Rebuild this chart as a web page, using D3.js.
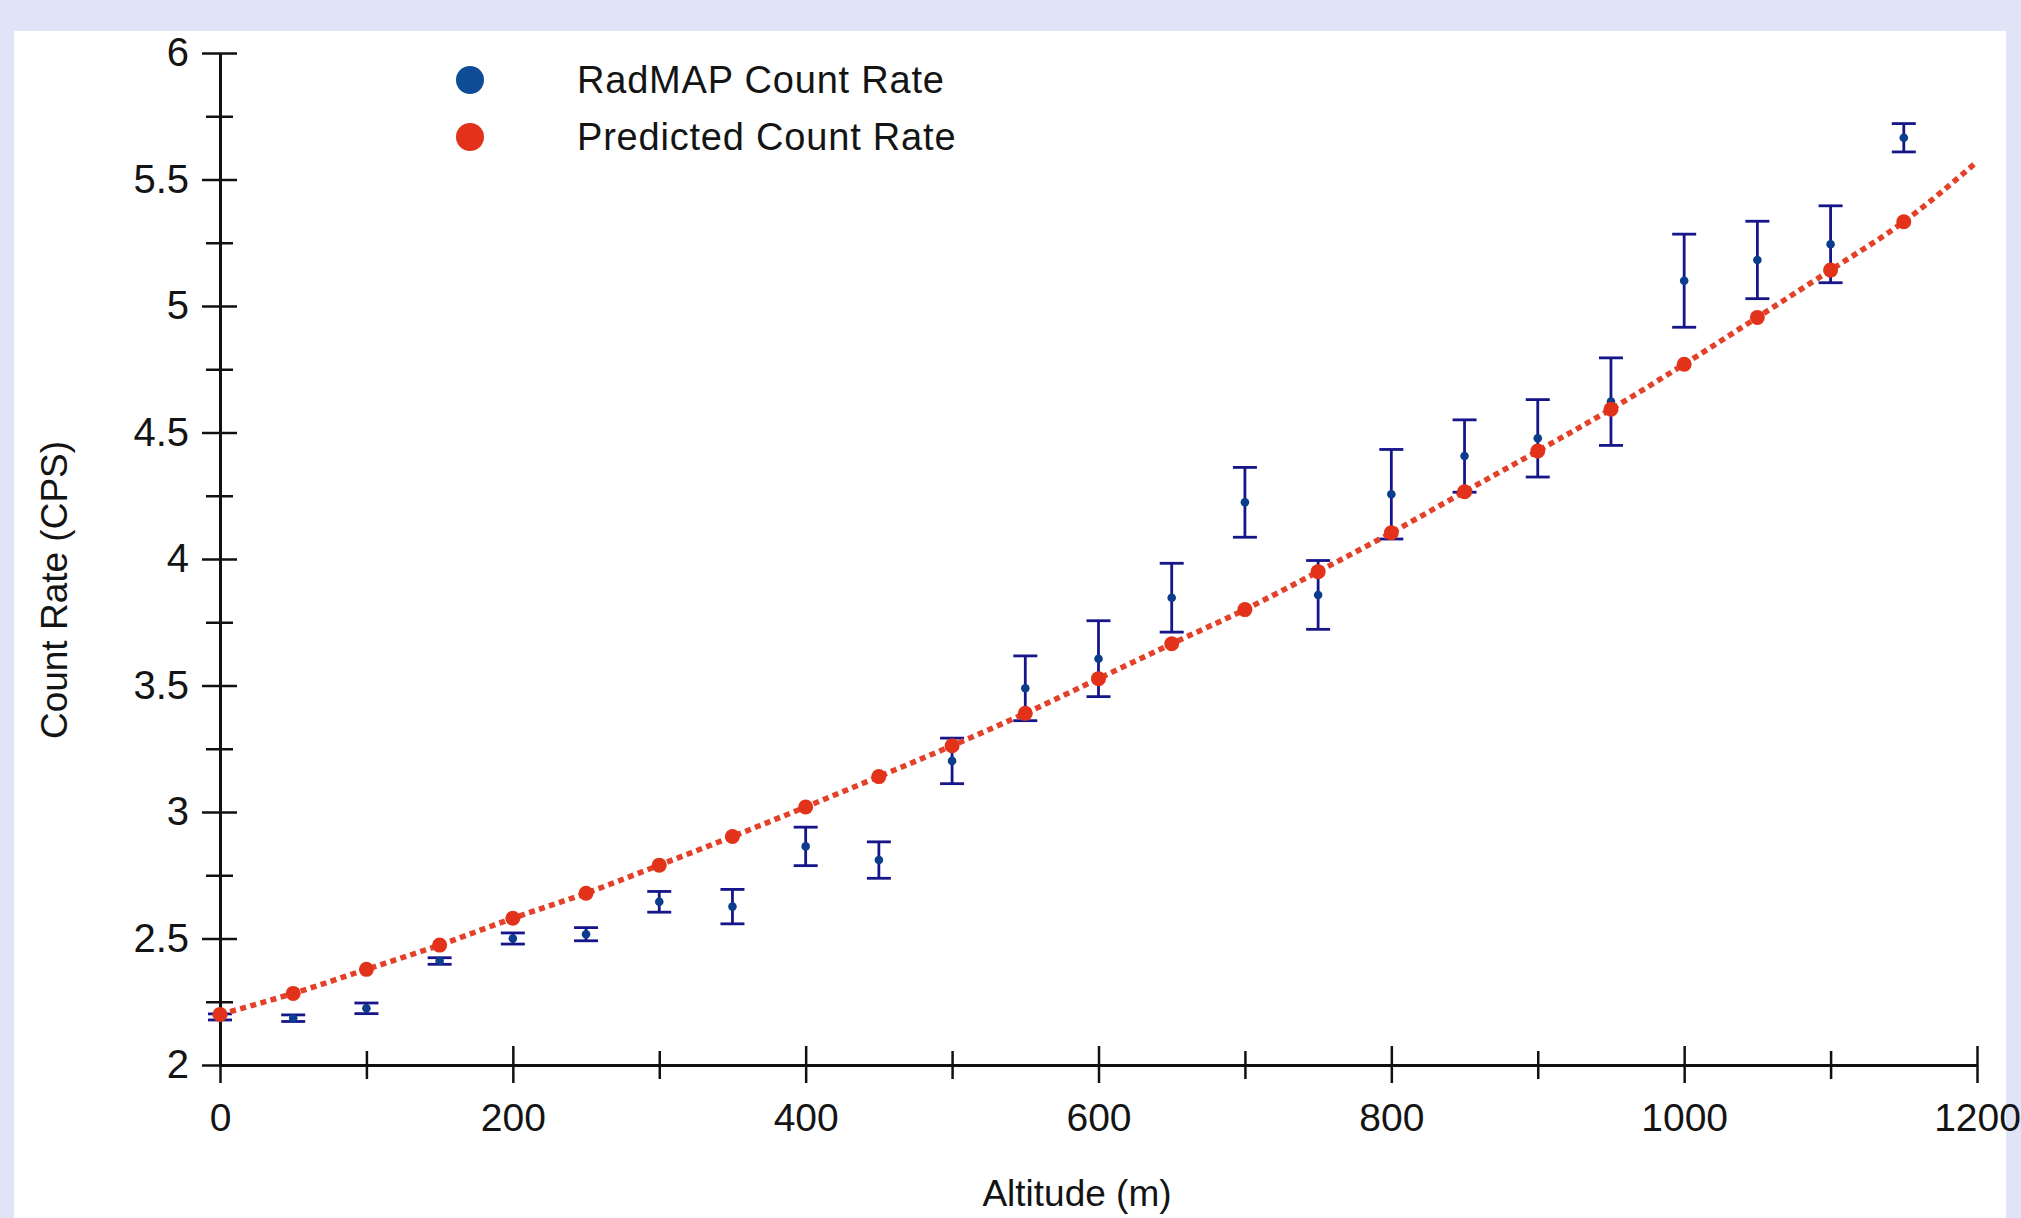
<!DOCTYPE html>
<html>
<head>
<meta charset="utf-8">
<script src="https://cdn.jsdelivr.net/npm/d3@7"></script>
<style>
  body { margin: 0; background: #e1e3f7; }
  svg { display: block; }
  text { font-family: "Liberation Sans", Arial, Helvetica, sans-serif; fill: #141414; }
</style>
</head>
<body>
<svg id="chart" width="2021" height="1218"></svg>
<script>
// altitude (m) of each measurement
const altitudes = [0, 50, 100, 150, 200, 250, 300, 350, 400, 450, 500, 550,
  600, 650, 700, 750, 800, 850, 900, 950, 1000, 1050, 1100, 1150]
// measured RadMAP count rate (CPS) and its 1-sigma error
const radmapRate = [2.19, 2.185, 2.224, 2.411, 2.50, 2.517, 2.645, 2.626, 2.864, 2.81, 3.202, 3.489,
  3.606, 3.847, 4.224, 3.858, 4.256, 4.407, 4.477, 4.622, 5.10, 5.182, 5.244, 5.665]
const radmapErr = [0.012, 0.013, 0.021, 0.013, 0.022, 0.026, 0.041, 0.068, 0.076, 0.072, 0.09, 0.128,
  0.15, 0.136, 0.138, 0.136, 0.177, 0.143, 0.153, 0.173, 0.184, 0.153, 0.152, 0.056]
// predicted count rate (CPS)
const predictedRate = [2.20, 2.283, 2.378, 2.474, 2.58, 2.679, 2.79, 2.903, 3.02, 3.14, 3.262, 3.39,
  3.527, 3.665, 3.80, 3.95, 4.104, 4.266, 4.427, 4.592, 4.77, 4.955, 5.142, 5.333]
// the dotted prediction curve runs on to the end of the axis
const curveEndAltitude = 1200
const curveEndRate = 5.57

const xMajorTicks = [0, 200, 400, 600, 800, 1000, 1200]
const xMinorTicks = [100, 300, 500, 700, 900, 1100]
const yMajorTicks = [2, 2.5, 3, 3.5, 4, 4.5, 5, 5.5, 6]
const yMinorTicks = [2.25, 2.75, 3.25, 3.75, 4.25, 4.75, 5.25, 5.75]

const legendLabels = ['RadMAP Count Rate', 'Predicted Count Rate']
const legendColors = ['#0f4c98', '#e2331a']

const svg = d3.select('#chart')

// white plotting panel on the lavender page
svg.append('rect').attr('x', 14).attr('y', 31).attr('width', 1992).attr('height', 1200).attr('fill', '#fff')

const x = d3.scaleLinear().domain([0, 1200]).range([220, 1977])
const y = d3.scaleLinear().domain([2, 6]).range([1065, 53])

// axes: ticks cross the axis line, so draw each side separately
const axes = svg.append('g').attr('class', 'axes')

const drawAxis = (axis, transform, fontSize) => {
  const g = axes.append('g').attr('transform', transform).call(axis)
  g.selectAll('line').attr('stroke', '#111').attr('stroke-width', 2.5)
  g.select('.domain').attr('stroke', '#111').attr('stroke-width', 3)
  g.selectAll('text').attr('font-size', fontSize || 40).attr('fill', '#141414')
  return g
}

drawAxis(d3.axisBottom(x).tickValues(xMajorTicks).tickSize(18).tickSizeOuter(0).tickPadding(20)
  .tickFormat(d3.format('d')), `translate(0,${y(2)})`, 39)
drawAxis(d3.axisTop(x).tickValues(xMajorTicks).tickSize(19).tickSizeOuter(0).tickFormat(''),
  `translate(0,${y(2)})`)
drawAxis(d3.axisBottom(x).tickValues(xMinorTicks).tickSize(14).tickSizeOuter(0).tickFormat(''),
  `translate(0,${y(2)})`)
drawAxis(d3.axisTop(x).tickValues(xMinorTicks).tickSize(14).tickSizeOuter(0).tickFormat(''),
  `translate(0,${y(2)})`)

drawAxis(d3.axisLeft(y).tickValues(yMajorTicks).tickSize(18).tickSizeOuter(0).tickPadding(13)
  .tickFormat(d3.format('')), `translate(${x(0)},0)`)
drawAxis(d3.axisRight(y).tickValues(yMajorTicks).tickSize(17).tickSizeOuter(0).tickFormat(''),
  `translate(${x(0)},0)`)
drawAxis(d3.axisLeft(y).tickValues(yMinorTicks).tickSize(14).tickSizeOuter(0).tickFormat(''),
  `translate(${x(0)},0)`)
drawAxis(d3.axisRight(y).tickValues(yMinorTicks).tickSize(13).tickSizeOuter(0).tickFormat(''),
  `translate(${x(0)},0)`)

// axis titles
svg.append('text').attr('x', 1077).attr('y', 1206).attr('text-anchor', 'middle')
  .attr('font-size', 37).text('Altitude (m)')
svg.append('text').attr('transform', 'translate(67,590) rotate(-90)').attr('text-anchor', 'middle')
  .attr('font-size', 37).text('Count Rate (CPS)')

// measured points with error bars
const measured = altitudes.map((a, i) => ({ a, v: radmapRate[i], e: radmapErr[i] }))
const bars = svg.append('g').attr('class', 'errorbars')
  .attr('stroke', '#16168a').attr('stroke-width', 2.8)
const bar = bars.selectAll('g').data(measured).enter().append('g')
bar.append('line')
  .attr('x1', (d) => x(d.a)).attr('x2', (d) => x(d.a))
  .attr('y1', (d) => y(d.v - d.e)).attr('y2', (d) => y(d.v + d.e))
bar.append('line')
  .attr('x1', (d) => x(d.a) - 12).attr('x2', (d) => x(d.a) + 12)
  .attr('y1', (d) => y(d.v + d.e)).attr('y2', (d) => y(d.v + d.e))
bar.append('line')
  .attr('x1', (d) => x(d.a) - 12).attr('x2', (d) => x(d.a) + 12)
  .attr('y1', (d) => y(d.v - d.e)).attr('y2', (d) => y(d.v - d.e))
svg.append('g').selectAll('circle').data(measured).enter().append('circle')
  .attr('cx', (d) => x(d.a)).attr('cy', (d) => y(d.v)).attr('r', 4.3).attr('fill', '#0b3d8c')

// predicted curve and markers
const curvePoints = altitudes.map((a, i) => [a, predictedRate[i]]).concat([[curveEndAltitude, curveEndRate]])
svg.append('path')
  .datum(curvePoints)
  .attr('fill', 'none').attr('stroke', '#e3412a').attr('stroke-width', 5.5)
  .attr('stroke-dasharray', '6,4.5')
  .attr('d', d3.line().x((d) => x(d[0])).y((d) => y(d[1])).curve(d3.curveMonotoneX))
svg.append('g').selectAll('circle').data(altitudes).enter().append('circle')
  .attr('cx', (d) => x(d)).attr('cy', (d, i) => y(predictedRate[i])).attr('r', 7.5).attr('fill', '#e2331a')

// legend
const legend = svg.append('g').attr('class', 'legend')
const item = legend.selectAll('g').data(legendLabels).enter().append('g')
  .attr('transform', (d, i) => `translate(470,${80 + i * 57})`)
item.append('circle').attr('r', 14).attr('fill', (d, i) => legendColors[i])
item.append('text').attr('x', 107).attr('dy', '0.35em').attr('font-size', 38)
  .attr('letter-spacing', 0.8).text((d) => d)
</script>
</body>
</html>
